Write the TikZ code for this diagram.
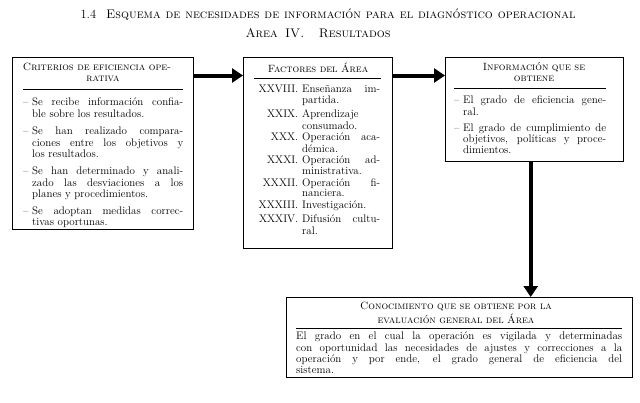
\documentclass[tikz,border=0pt]{standalone}
\usepackage{fontspec}
\usetikzlibrary{arrows.meta}
\newlength{\dashw}\setlength{\dashw}{9pt}
\newcommand{\dashitem}[1]{\par\noindent\hangindent=\dashw\hangafter=1\strut\makebox[\dashw][l]{--}#1\par}
\newcommand{\romitem}[2]{\par\noindent\makebox[44pt][r]{\strut#1}\hspace{4pt}\parbox[t]{78pt}{\strut#2}\par}
\newcommand{\fullline}[1]{\makebox[\hsize][s]{#1}}
\newcommand{\lsc}[1]{{\scshape\addfontfeature{LetterSpace=6}#1}}
\newcommand{\tsc}[1]{{\scshape\addfontfeature{LetterSpace=10}#1}}
\tolerance=10000 \hbadness=10000 \hfuzz=3pt
\tikzset{x=1pt,y=-1pt,
  box/.style={draw, line width=1.4pt, inner sep=0pt, anchor=north west},
  txt/.style={inner sep=0pt, anchor=north west, align=justify, font=\fontsize{11}{10.8}\selectfont},
  head/.style={inner sep=0pt, anchor=north, align=center, font=\fontsize{10.5}{10.8}\selectfont},
  arr/.style={line width=4pt, -{Triangle[length=11pt,width=14pt]}},
  rule/.style={line width=0.8pt}}
\begin{document}
\begin{tikzpicture}
\useasboundingbox[fill=white] (0,0) rectangle (640,402);
% titles
\node[inner sep=0pt, anchor=base, font=\fontsize{12.5}{13}\selectfont] (t1) at (328,18)
  {\makebox[495pt][s]{1.4\hspace{10pt}\tsc{Esquema de necesidades de información para el diagnóstico operacional}}};
\node[inner sep=0pt, anchor=base, font=\fontsize{12.5}{13}\selectfont] (t2) at (318,37)
  {\makebox[145pt][s]{\tsc{Area IV.\ \ Resultados}}};
% boxes
\node[box, minimum width=181pt, minimum height=172pt] (b1) at (12,57) {};
\node[box, minimum width=149pt, minimum height=191pt] (b2) at (243,57) {};
\node[box, minimum width=178pt, minimum height=104pt] (b3) at (445,57) {};
\node[box, minimum width=346pt, minimum height=80pt] (b4) at (286,297) {};
% box 1
\node[head, text width=160pt] (h1) at (103,62.5)
  {\fullline{\strut\lsc{Criterios de eficiencia ope-}}\\\lsc{rativa}};
\draw[rule] (23,89) -- (183,89);
\node[txt, text width=160pt] (c1) at (23,94.4) {%
\dashitem{Se recibe información confia-\linebreak ble sobre los resultados.}\vspace{6.5pt}
\dashitem{Se han realizado compara-\linebreak ciones entre los objetivos y\linebreak los resultados.}\vspace{6.5pt}
\dashitem{Se han determinado y anali-\linebreak zado las desviaciones a los\linebreak planes y procedimientos.}\vspace{6.5pt}
\dashitem{Se adoptan medidas correc-\linebreak tivas oportunas.}};
% box 2
\node[head, text width=130pt] (h2) at (318,62.5) {\strut\lsc{Factores del Área}};
\draw[rule] (254,78.5) -- (381,78.5);
\node[txt, text width=126pt] (c2) at (254,81) {%
\romitem{XXVIII.}{Enseñanza im-\linebreak partida.}\vspace{2.5pt}
\romitem{XXIX.}{Aprendizaje\linebreak consumado.}\vspace{2.5pt}
\romitem{XXX.}{Operación aca-\linebreak démica.}\vspace{2.5pt}
\romitem{XXXI.}{Operación ad-\linebreak ministrativa.}\vspace{2.5pt}
\romitem{XXXII.}{Operación fi-\linebreak nanciera.}\vspace{2.5pt}
\romitem{XXXIII.}{Investigación.}\vspace{2.5pt}
\romitem{XXXIV.}{Difusión cultu-\linebreak ral.}};
% box 3
\node[head, text width=150pt] (h3) at (534,62.5) {\strut\lsc{Información que se}\\\lsc{obtiene}};
\draw[rule] (454,88.5) -- (606,88.5);
\node[txt, text width=152pt] (c3) at (454,92.4) {%
\dashitem{El grado de eficiencia gene-\linebreak ral.}\vspace{5pt}
\dashitem{El grado de cumplimiento de\linebreak objetivos, políticas y proce-\linebreak dimientos.}};
% box 4
\node[head, text width=320pt] (h4) at (456,301.5) {\strut\lsc{Conocimiento que se obtiene por la}\\\lsc{evaluación general del Área}};
\draw[rule] (296,328.5) -- (622,328.5);
\node[txt, text width=326pt] (c4) at (296,331.9) {\strut El grado en el cual la operación es vigilada y determinadas\linebreak con oportunidad las necesidades de ajustes y correcciones a la\linebreak operación y por ende, el grado general de eficiencia del\linebreak sistema.};
% arrows
\coordinate (ay) at (0,75.5);
\draw[arr] (b1.east |- ay) -- (b2.west |- ay);
\draw[arr] (b2.east |- ay) -- (b3.west |- ay);
\draw[arr] ([xshift=-4pt]b3.south) -- ([xshift=-4pt]b3.south |- b4.north);
\end{tikzpicture}
\end{document}
